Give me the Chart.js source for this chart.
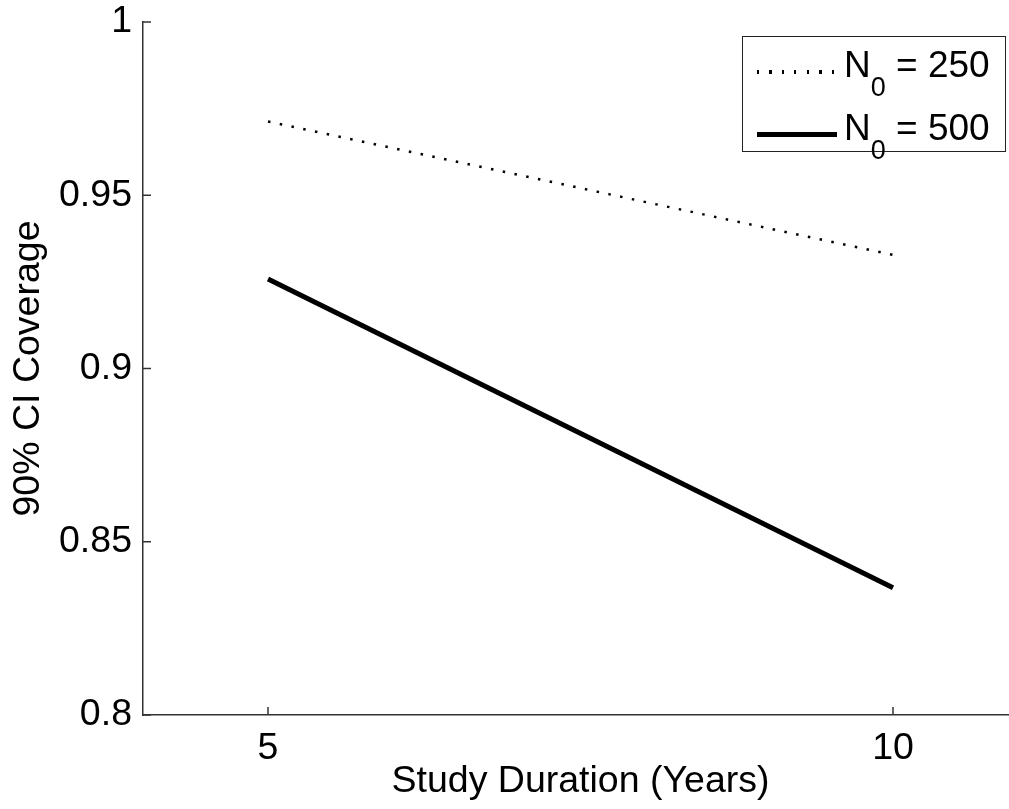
<!DOCTYPE html>
<html>
<head>
<meta charset="utf-8">
<script src="https://cdn.jsdelivr.net/npm/chart.js@4"></script>
<style>
  html, body { margin: 0; padding: 0; background: #fff; overflow: hidden; }
  #wrap { position: relative; width: 1020px; height: 809px; }
  #legend {
    position: absolute; left: 742px; top: 36px; width: 262px; height: 114px;
    border: 1.5px solid #222; background: #fff;
    font-family: "Liberation Sans", Arial, sans-serif; font-size: 37px; color: #000;
  }
  .txt { position: absolute; left: 101px; line-height: 37px; white-space: nowrap; }
  .txt sub { font-size: 27px; vertical-align: -19px; line-height: 0; }
  .sample { position: absolute; left: 14px; }
  .dotted { width: 77px; height: 4px; background: repeating-linear-gradient(90deg, #000 0 2px, transparent 2px 12.5px); }
  .solid { width: 80px; height: 5px; background: #000; }
</style>
</head>
<body>
<div id="wrap">
  <canvas id="c" width="1020" height="809"></canvas>
  <div id="legend">
    <div class="sample dotted" style="top:33px"></div>
    <div class="txt" style="top:9px">N<sub>0</sub> = 250</div>
    <div class="sample solid" style="top:95px"></div>
    <div class="txt" style="top:72px">N<sub>0</sub> = 500</div>
  </div>
</div>
<script>
// ── Data ──────────────────────────────────────────────────────────────────────
const YEARS   = [5, 10];
const N250    = [0.9713, 0.9328];
const N500    = [0.9258, 0.8367];
const X_TICKS = [5, 10];
const Y_TICKS = [0.8, 0.85, 0.9, 0.95, 1];

const FONT = "'Liberation Sans', Arial, sans-serif";
const AXIS = "#333";

// inward tick marks, MATLAB style
const innerTicks = {
  id: "innerTicks",
  afterDraw(chart) {
    const { ctx, scales: { x, y } } = chart;
    ctx.save();
    ctx.strokeStyle = AXIS;
    ctx.lineWidth = 1.5;
    x.ticks.forEach(t => {
      const px = x.getPixelForValue(t.value);
      ctx.beginPath(); ctx.moveTo(px, y.bottom); ctx.lineTo(px, y.bottom - 8); ctx.stroke();
    });
    y.ticks.forEach(t => {
      const py = y.getPixelForValue(t.value);
      ctx.beginPath(); ctx.moveTo(x.left, py); ctx.lineTo(x.left + 8, py); ctx.stroke();
    });
    ctx.restore();
  }
};

new Chart(document.getElementById("c"), {
  type: "line",
  data: {
    datasets: [
      { label: "N0 = 250", data: YEARS.map((v, i) => ({ x: v, y: N250[i] })),
        borderColor: "#000", borderWidth: 2.5, borderDash: [2.5, 9.5], pointRadius: 0, fill: false },
      { label: "N0 = 500", data: YEARS.map((v, i) => ({ x: v, y: N500[i] })),
        borderColor: "#000", borderWidth: 5, pointRadius: 0, fill: false },
    ],
  },
  options: {
    responsive: false,
    animation: false,
    layout: { padding: { top: 22, right: 2 } },
    plugins: { legend: { display: false }, tooltip: { enabled: false } },
    scales: {
      x: {
        type: "linear", min: 4, max: 11,
        afterBuildTicks: s => { s.ticks = X_TICKS.map(v => ({ value: v })); },
        afterFit: s => { s.height = 94; s.paddingLeft = 0; s.paddingRight = 0; },
        grid: { drawOnChartArea: false, drawTicks: false },
        border: { display: true, color: AXIS, width: 1.5 },
        ticks: { color: "#000", font: { family: FONT, size: 37.5 }, padding: 11 },
        title: { display: true, text: "Study Duration (Years)", color: "#000",
                 font: { family: FONT, size: 37.5 }, padding: { top: 0, bottom: 5 } },
      },
      y: {
        type: "linear", min: 0.8, max: 1,
        afterBuildTicks: s => { s.ticks = Y_TICKS.map(v => ({ value: v })); },
        afterFit: s => { s.width = 143; s.paddingTop = 0; s.paddingBottom = 0; },
        grid: { drawOnChartArea: false, drawTicks: false },
        border: { display: true, color: AXIS, width: 1.5 },
        ticks: { color: "#000", font: { family: FONT, size: 37.5 }, padding: 11,
                 callback: v => String(+v.toFixed(2)) },
        title: { display: true, text: "90% CI Coverage", color: "#000",
                 font: { family: FONT, size: 37.5 }, padding: { top: 6, bottom: 6 } },
      },
    },
  },
  plugins: [innerTicks],
});
</script>
</body>
</html>
